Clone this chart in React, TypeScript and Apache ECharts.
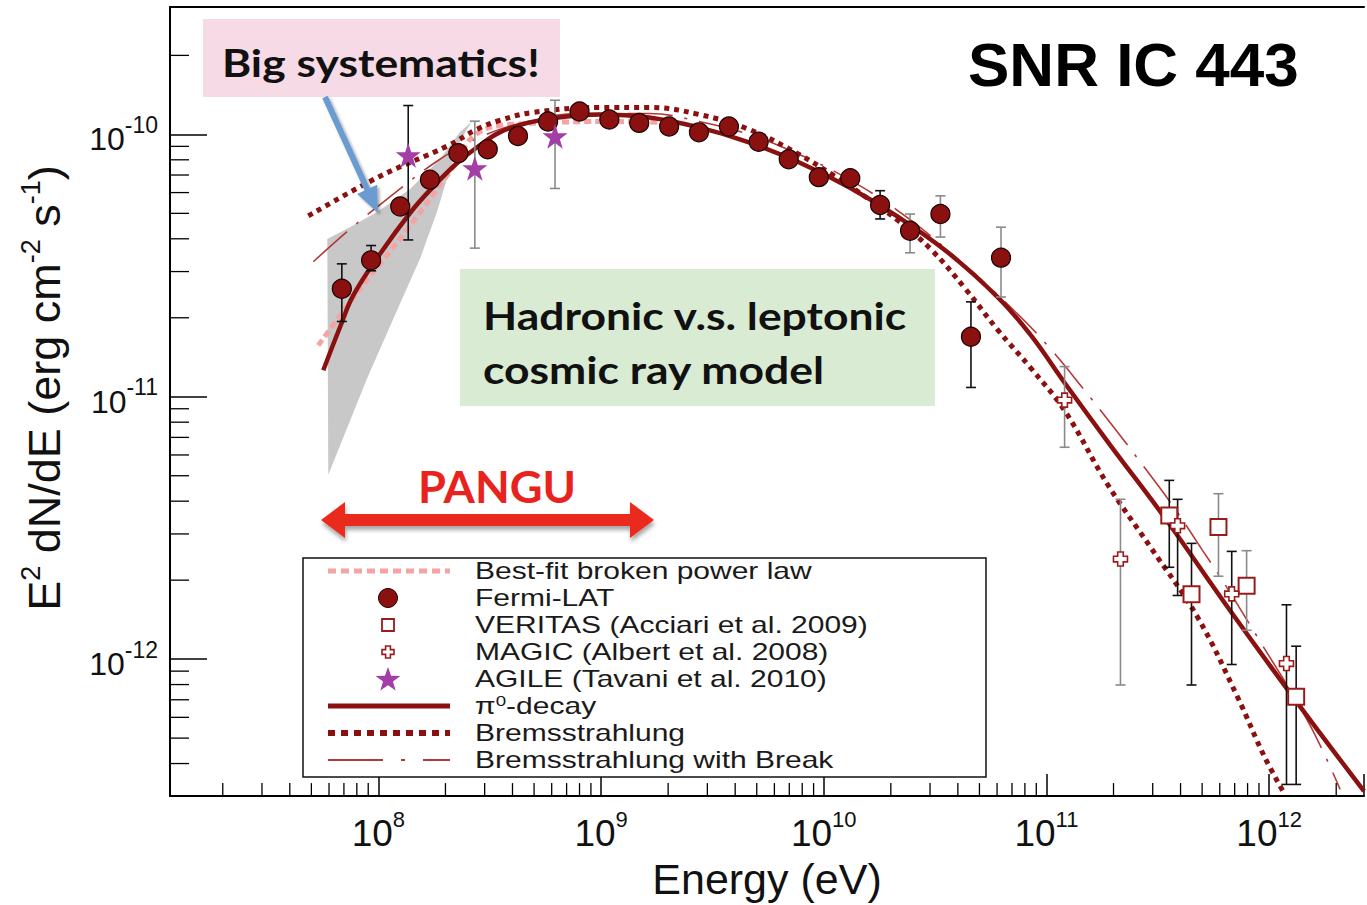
import React, { useEffect, useRef } from "react";
import * as echarts from "echarts";

// ---- axis ranges (data units) ----
const X_MIN = 1.159e7;
const X_MAX = 2.666e12;
const Y_MIN = 3.006e-13;
const Y_MAX = 3.058e-10;

// ---- minor tick positions (tick labels / axis furniture) ----
const minorMantissas = [2, 3, 4, 5, 6, 7, 8, 9];
const xDecades = [7, 8, 9, 10, 11, 12];
const yDecades = [-13, -12, -11, -10];

// ---- Fermi-LAT ----
const fermiE = [6.85e7, 9.27e7, 1.253e8, 1.704e8, 2.285e8, 3.097e8, 4.234e8, 5.78e8, 8.0e8, 1.089e9, 1.483e9, 2.02e9, 2.75e9, 3.75e9, 5.1e9, 6.96e9, 9.5e9, 1.315e10, 1.79e10, 2.44e10, 3.34e10, 4.58e10, 6.25e10];
const fermiF = [2.58e-11, 3.31e-11, 5.31e-11, 6.72e-11, 8.47e-11, 8.77e-11, 9.85e-11, 1.12e-10, 1.222e-10, 1.14e-10, 1.106e-10, 1.072e-10, 1.018e-10, 1.072e-10, 9.37e-11, 8.04e-11, 6.87e-11, 6.81e-11, 5.38e-11, 4.29e-11, 4.97e-11, 1.694e-11, 3.39e-11];

// ---- VERITAS ----
const veritasE = [3.56e11, 4.48e11, 5.92e11, 7.92e11, 1.322e12];
const veritasF = [3.526e-12, 1.768e-12, 3.19e-12, 1.905e-12, 7.19e-13];

// ---- MAGIC ----
const magicE = [1.206e11, 2.149e11, 3.88e11, 6.79e11, 1.196e12];
const magicF = [9.71e-12, 2.407e-12, 3.223e-12, 1.773e-12, 9.62e-13];

// ---- AGILE ----
const agileE = [1.361e8, 2.71e8, 6.21e8];
const agileF = [8.32e-11, 7.43e-11, 9.83e-11];

// ---- error bars [E, low, high] ----
const errBlack = [
  [6.85e7, 1.936e-11, 3.21e-11],
  [9.27e7, 3.02e-11, 3.77e-11],
  [1.361e8, 3.96e-11, 1.288e-10],
  [1.79e10, 4.76e-11, 6.1e-11],
  [4.58e10, 1.085e-11, 2.3e-11],
  [3.56e11, 2.239e-12, 4.8e-12],
  [4.48e11, 7.97e-13, 2.762e-12],
  [1.322e12, 3.33e-13, 1.12e-12],
  [3.88e11, 1.748e-12, 4.065e-12],
  [6.79e11, 9.54e-13, 2.574e-12],
  [1.196e12, 3.33e-13, 1.611e-12],
];
const errGray = [
  [2.71e8, 3.685e-11, 1.123e-10],
  [6.21e8, 6.22e-11, 1.349e-10],
  [2.44e10, 3.537e-11, 4.97e-11],
  [3.34e10, 4.06e-11, 5.83e-11],
  [6.25e10, 2.4e-11, 4.43e-11],
  [5.92e11, 2.07e-12, 4.27e-12],
  [7.92e11, 1.288e-12, 2.59e-12],
  [1.206e11, 6.42e-12, 1.303e-11],
  [2.149e11, 7.97e-13, 4.065e-12],
];

// ---- model curves ----
const pi0E = [5.655e7, 6.74e7, 7.7e7, 1.018e8, 1.387e8, 1.704e8, 2.251e8, 2.853e8, 3.505e8, 4.775e8, 6.99e8, 9.83e8, 1.645e9, 2.754e9, 4.61e9, 7.72e9, 1.292e10, 2.164e10, 3.623e10, 6.066e10, 8.52e10, 1.21e11, 1.944e11, 3.392e11, 6.7e11, 1.336e12, 2.666e12];
const pi0F = [1.262e-11, 1.853e-11, 2.43e-11, 3.507e-11, 5.016e-11, 6.13e-11, 7.76e-11, 9.08e-11, 1.018e-10, 1.111e-10, 1.17e-10, 1.191e-10, 1.16e-10, 1.063e-10, 9.33e-11, 7.83e-11, 6.3e-11, 4.84e-11, 3.537e-11, 2.388e-11, 1.713e-11, 1.126e-11, 6.5e-12, 3.465e-12, 1.525e-12, 6.83e-13, 3.14e-13];

const bremsE = [4.845e7, 1.018e8, 2.03e8, 2.765e8, 3.505e8, 4.925e8, 9.83e8, 1.645e9, 2.754e9, 4.61e9, 7.72e9, 1.085e10, 1.589e10, 2.164e10, 3.042e10, 4.317e10, 6.066e10, 8.52e10, 1.21e11, 1.885e11, 2.936e11, 4.766e11, 7.2e11, 9.51e11, 1.168e12];
const bremsF = [4.887e-11, 6.93e-11, 9.01e-11, 1.045e-10, 1.13e-10, 1.212e-10, 1.266e-10, 1.266e-10, 1.191e-10, 1.045e-10, 8.4e-11, 7.05e-11, 5.67e-11, 4.68e-11, 3.63e-11, 2.582e-11, 1.79e-11, 1.284e-11, 8.82e-12, 4.62e-12, 2.667e-12, 1.446e-12, 7.19e-13, 4.26e-13, 3.08e-13];

const breakE = [5.1e7, 7.47e7, 1.094e8, 1.889e8, 2.853e8, 4.31e8, 8.0e8, 1.645e9, 2.754e9, 4.61e9, 7.72e9, 1.292e10, 2.164e10, 3.623e10, 7.23e10, 1.037e11, 1.457e11, 1.985e11, 2.761e11, 3.685e11, 5.02e11, 6.04e11, 8.85e11, 1.512e12, 2.082e12];
const breakF = [3.27e-11, 4.36e-11, 5.67e-11, 8.04e-11, 9.74e-11, 1.101e-10, 1.201e-10, 1.201e-10, 1.12e-10, 1.0e-10, 8.4e-11, 6.75e-11, 5.1e-11, 3.6e-11, 2.113e-11, 1.529e-11, 1.078e-11, 7.74e-12, 5.36e-12, 3.85e-12, 2.598e-12, 2.051e-12, 1.215e-12, 5.68e-13, 3.19e-13];

const bplE = [5.37e7, 8.28e7, 1.251e8, 1.704e8, 2.204e8, 2.576e8, 3.162e8, 4.775e8, 9.83e8, 2.022e9];
const bplF = [1.57e-11, 2.582e-11, 3.996e-11, 5.67e-11, 7.69e-11, 9.57e-11, 1.063e-10, 1.101e-10, 1.12e-10, 1.111e-10];

// ---- systematics band (polygon outline) ----
const bandE = [5.895e7, 7.47e7, 9.87e7, 1.387e8, 1.889e8, 2.321e8, 2.627e8, 2.321e8, 2.094e8, 1.831e8, 1.537e8, 1.251e8, 8.9e7, 5.955e7];
const bandF = [3.996e-11, 4.44e-11, 5.06e-11, 6.19e-11, 8.04e-11, 1.018e-10, 1.12e-10, 9.41e-11, 7.37e-11, 5.06e-11, 3.356e-11, 2.266e-11, 1.177e-11, 5.04e-12];

// ---- legend labels ----
const legendLabels = [
  "Best-fit broken power law",
  "Fermi-LAT",
  "VERITAS (Acciari et al. 2009)",
  "MAGIC (Albert et al. 2008)",
  "AGILE (Tavani et al. 2010)",
  "{p|π}{s|0}{p|-decay}",
  "Bremsstrahlung",
  "Bremsstrahlung with Break",
];

const DARK_RED = "#8b1010";
const PURPLE = "#a23ea6";
const SANS = "'Liberation Sans', Arial, sans-serif";
const BOLD_HUMANIST = "Lato, 'Open Sans', sans-serif";

const STAR_PATH =
  "path://M50,0 L61.8,35.3 L98.9,35.3 L68.9,57.1 L80.3,92.5 L50,70.7 L19.7,92.5 L31.1,57.1 L1.1,35.3 L38.2,35.3 Z";
const CROSS_PATH =
  "path://M3,0 L7,0 L7,3 L10,3 L10,7 L7,7 L7,10 L3,10 L3,7 L0,7 L0,3 L3,3 Z";

const zip = (xs: number[], ys: number[]) => xs.map((x, i) => [x, ys[i]]);

function arrowPts(x1: number, y1: number, x2: number, y2: number, shaft: number, headLen: number, headW: number, both: boolean) {
  const len = Math.hypot(x2 - x1, y2 - y1);
  const ux = (x2 - x1) / len, uy = (y2 - y1) / len;
  const nx = -uy, ny = ux;
  const P = (a: number, b: number) => [x1 + ux * a + nx * b, y1 + uy * a + ny * b];
  const hs = shaft / 2, H = headW / 2;
  if (both) {
    return [P(0, 0), P(headLen, H), P(headLen, hs), P(len - headLen, hs), P(len - headLen, H), P(len, 0), P(len - headLen, -H), P(len - headLen, -hs), P(headLen, -hs), P(headLen, -H)];
  }
  return [P(0, hs), P(len - headLen, hs), P(len - headLen, H), P(len, 0), P(len - headLen, -H), P(len - headLen, -hs), P(0, -hs)];
}

function starPts(cx: number, cy: number, R: number) {
  const pts: number[][] = [];
  for (let i = 0; i < 10; i++) {
    const r = i % 2 === 0 ? R : R * 0.4;
    const a = -Math.PI / 2 + (i * Math.PI) / 5;
    pts.push([cx + r * Math.cos(a), cy + r * Math.sin(a)]);
  }
  return pts;
}

function crossPts(cx: number, cy: number, s: number) {
  const a = s * 0.2, b = s * 0.5;
  return [[cx - a, cy - b], [cx + a, cy - b], [cx + a, cy - a], [cx + b, cy - a], [cx + b, cy + a], [cx + a, cy + a], [cx + a, cy + b], [cx - a, cy + b], [cx - a, cy + a], [cx - b, cy + a], [cx - b, cy - a], [cx - a, cy - a]];
}

const powLabel = (v: number) => {
  const e = Math.log10(v);
  const r = Math.round(e);
  if (Math.abs(e - r) > 1e-6) return "";
  return `{b|10}{s|${r}}`;
};

function errRender(color: string) {
  return (params: any, api: any) => {
    const e = api.value(0), lo = api.value(1), hi = api.value(2);
    const a = api.coord([e, hi]);
    const b = api.coord([e, lo]);
    const w = 5;
    const st = { stroke: color, lineWidth: 1.6 };
    return {
      type: "group",
      children: [
        { type: "line", shape: { x1: a[0], y1: a[1], x2: b[0], y2: b[1] }, style: st },
        { type: "line", shape: { x1: a[0] - w, y1: a[1], x2: a[0] + w, y2: a[1] }, style: st },
        { type: "line", shape: { x1: b[0] - w, y1: b[1], x2: b[0] + w, y2: b[1] }, style: st },
      ],
    };
  };
}

export default function App() {
  const ref = useRef<HTMLDivElement>(null);
  useEffect(() => {
    document.body.style.margin = "0";
    document.body.style.overflow = "hidden";
    const chart = echarts.init(ref.current!, null, { renderer: "svg" });

    const xMinor: number[][] = [];
    xDecades.forEach((d) => minorMantissas.forEach((m) => {
      const v = m * Math.pow(10, d);
      if (v > X_MIN && v < X_MAX) xMinor.push([v, Y_MIN]);
    }));
    const yMinor: number[][] = [];
    yDecades.forEach((d) => minorMantissas.forEach((m) => {
      const v = m * Math.pow(10, d);
      if (v > Y_MIN && v < Y_MAX * 0.97) yMinor.push([X_MIN, v]);
    }));

    const legendY = [571, 598, 625, 652, 679, 706, 733, 760];
    const symX = 388;
    const boldText = (text: string, x: number, y: number) => ({
      type: "text", z: 101, x, y, scaleX: 1.17,
      style: { text, fontFamily: BOLD_HUMANIST, fontWeight: "bold", fontSize: 38, fill: "#111", align: "left", verticalAlign: "middle" },
    });

    const graphic: any[] = [
      // Big systematics box
      { type: "rect", z: 100, shape: { x: 203, y: 19, width: 357, height: 78 }, style: { fill: "#f6dae6" } },
      boldText("Big systematics!", 222, 62),
      // blue arrow
      { type: "polygon", z: 101, shape: { points: arrowPts(325, 97, 378, 213, 6, 26, 22, false) }, style: { fill: "#6a9cd2", shadowBlur: 3, shadowOffsetX: 2, shadowOffsetY: 2, shadowColor: "rgba(0,0,0,0.35)" } },
      // Hadronic box
      { type: "rect", z: 100, shape: { x: 460, y: 269, width: 475, height: 137 }, style: { fill: "#d9ebd3" } },
      boldText("Hadronic v.s. leptonic", 483, 315),
      boldText("cosmic ray model", 483, 369),
      // title
      { type: "text", z: 101, x: 968, y: 64, style: { text: "SNR IC 443", fontFamily: SANS, fontWeight: "bold", fontSize: 62, fill: "#000", align: "left", verticalAlign: "middle" } },
      // PANGU
      { type: "text", z: 101, x: 497, y: 486, scaleX: 1.05, style: { text: "PANGU", fontFamily: BOLD_HUMANIST, fontWeight: "bold", fontSize: 43, fill: "#e8231d", align: "center", verticalAlign: "middle" } },
      { type: "polygon", z: 101, shape: { points: arrowPts(321, 520, 654, 520, 12, 24, 36, true) }, style: { fill: "#ea2a1f", shadowBlur: 4, shadowOffsetX: 1, shadowOffsetY: 4, shadowColor: "rgba(0,0,0,0.35)" } },
      // y axis title
      {
        type: "text", z: 101, x: 42, y: 388, rotation: Math.PI / 2,
        style: {
          text: "{m|E}{s|2}{m| dN/dE (erg cm}{s|-2}{m| s}{s|-1}{m|)}",
          align: "center", verticalAlign: "middle",
          rich: {
            m: { fontFamily: SANS, fontSize: 45, fill: "#111", lineHeight: 50, verticalAlign: "bottom" },
            s: { fontFamily: SANS, fontSize: 27, fill: "#111", lineHeight: 26, verticalAlign: "top" },
          },
        },
      },
      // legend box
      { type: "rect", z: 100, shape: { x: 303, y: 558, width: 683, height: 219 }, style: { fill: "#fff", stroke: "#111", lineWidth: 1.5 } },
      { type: "line", z: 101, shape: { x1: 328, y1: legendY[0], x2: 450, y2: legendY[0] }, style: { stroke: "#f4a4a4", lineWidth: 5, lineDash: [8, 5] } },
      { type: "circle", z: 101, shape: { cx: symX, cy: legendY[1], r: 9.5 }, style: { fill: DARK_RED, stroke: "#200", lineWidth: 1 } },
      { type: "rect", z: 101, shape: { x: symX - 6, y: legendY[2] - 6, width: 12, height: 12 }, style: { fill: "#fff", stroke: "#9b1b1b", lineWidth: 1.8 } },
      { type: "polygon", z: 101, shape: { points: crossPts(symX, legendY[3], 12) }, style: { fill: "#fff", stroke: "#9b1b1b", lineWidth: 1.6 } },
      { type: "polygon", z: 101, shape: { points: starPts(symX, legendY[4] + 1, 13) }, style: { fill: PURPLE } },
      { type: "line", z: 101, shape: { x1: 328, y1: legendY[5], x2: 450, y2: legendY[5] }, style: { stroke: DARK_RED, lineWidth: 5 } },
      { type: "line", z: 101, shape: { x1: 328, y1: legendY[6], x2: 450, y2: legendY[6] }, style: { stroke: DARK_RED, lineWidth: 6, lineDash: [7, 6] } },
      { type: "line", z: 101, shape: { x1: 328, y1: legendY[7], x2: 450, y2: legendY[7] }, style: { stroke: "#b33a3a", lineWidth: 1.8, lineDash: [55, 18, 4, 18] } },
      ...legendLabels.map((t, i) => ({
        type: "text", z: 101, x: 475, y: legendY[i], scaleX: 1.25,
        style: {
          text: i === 5 ? t : `{p|${t}}`,
          align: "left", verticalAlign: "middle",
          rich: {
            p: { fontFamily: SANS, fontSize: 24, fill: "#1a1a1a", lineHeight: 24, verticalAlign: "bottom" },
            s: { fontFamily: SANS, fontSize: 15, fill: "#1a1a1a", lineHeight: 14, verticalAlign: "top" },
          },
        },
      })),
    ];

    const option: any = {
      animation: false,
      backgroundColor: "#fff",
      grid: { left: 170, top: 7, width: 1197, height: 793, show: false },
      xAxis: [
        {
          type: "log", logBase: 10, min: X_MIN, max: X_MAX,
          axisLine: { show: true, onZero: false, lineStyle: { color: "#000", width: 2 } },
          axisTick: { show: true, inside: true, length: 22, lineStyle: { color: "#000", width: 1.5 } },
          axisLabel: {
            margin: 12, formatter: powLabel,
            rich: {
              b: { fontFamily: SANS, fontSize: 37, color: "#111", lineHeight: 44, verticalAlign: "bottom" },
              s: { fontFamily: SANS, fontSize: 22, color: "#111", lineHeight: 20, verticalAlign: "top" },
            },
          },
          splitLine: { show: false },
          name: "Energy (eV)", nameLocation: "middle", nameGap: 58,
          nameTextStyle: { fontFamily: SANS, fontSize: 43, color: "#111" },
        },
        {
          type: "log", logBase: 10, min: X_MIN, max: X_MAX, position: "top",
          axisLine: { show: true, lineStyle: { color: "#000", width: 2 } },
          axisTick: { show: false }, axisLabel: { show: false }, splitLine: { show: false },
        },
      ],
      yAxis: {
        type: "log", logBase: 10, min: Y_MIN, max: Y_MAX,
        axisLine: { show: true, onZero: false, lineStyle: { color: "#000", width: 2 } },
        axisTick: { show: true, inside: true, length: 37, lineStyle: { color: "#000", width: 1.5 } },
        axisLabel: {
          margin: 12, formatter: powLabel,
          rich: {
            b: { fontFamily: SANS, fontSize: 32, color: "#111", lineHeight: 42, verticalAlign: "bottom" },
            s: { fontFamily: SANS, fontSize: 23, color: "#111", lineHeight: 20, verticalAlign: "top" },
          },
        },
        splitLine: { show: false },
      },
      graphic,
      series: [
        {
          type: "custom", name: "systematics", silent: true, z: 1,
          data: [[bandE[0], bandF[0]]],
          renderItem: (params: any, api: any) => ({
            type: "polygon",
            shape: { points: bandE.map((e, i) => api.coord([e, bandF[i]])) },
            style: { fill: "#c8c8c8" },
          }),
        },
        {
          type: "custom", name: "xMinor", silent: true, z: 10, data: xMinor,
          renderItem: (params: any, api: any) => {
            const p = api.coord([api.value(0), Y_MIN]);
            return { type: "line", shape: { x1: p[0], y1: p[1], x2: p[0], y2: p[1] - 13 }, style: { stroke: "#000", lineWidth: 1.3 } };
          },
        },
        {
          type: "custom", name: "yMinor", silent: true, z: 10, data: yMinor,
          renderItem: (params: any, api: any) => {
            const p = api.coord([X_MIN, api.value(1)]);
            return { type: "line", shape: { x1: p[0], y1: p[1], x2: p[0] + 19, y2: p[1] }, style: { stroke: "#000", lineWidth: 1.3 } };
          },
        },
        {
          type: "line", name: "Best-fit broken power law", data: zip(bplE, bplF), z: 2,
          showSymbol: false, smooth: 0.3,
          lineStyle: { color: "#f4a4a4", width: 5, type: [7, 4] },
        },
        {
          type: "line", name: "Bremsstrahlung with Break", data: zip(breakE, breakF), z: 3,
          showSymbol: false, smooth: 0.4,
          lineStyle: { color: "#b33a3a", width: 1.6, type: [45, 12, 3, 12] },
        },
        {
          type: "line", name: "Bremsstrahlung", data: zip(bremsE, bremsF), z: 3,
          showSymbol: false, smooth: 0.4,
          lineStyle: { color: DARK_RED, width: 5, type: [5, 5] },
        },
        {
          type: "line", name: "π0-decay", data: zip(pi0E, pi0F), z: 4,
          showSymbol: false, smooth: 0.4,
          lineStyle: { color: DARK_RED, width: 4.5 },
        },
        { type: "custom", name: "errGray", z: 5, data: errGray, renderItem: errRender("#8a8a8a") },
        { type: "custom", name: "errBlack", z: 5, data: errBlack, renderItem: errRender("#111") },
        {
          type: "scatter", name: "Fermi-LAT", data: zip(fermiE, fermiF), z: 6,
          symbol: "circle", symbolSize: 19,
          itemStyle: { color: DARK_RED, borderColor: "#1a0000", borderWidth: 1.2, opacity: 1 },
        },
        {
          type: "scatter", name: "VERITAS", data: zip(veritasE, veritasF), z: 6,
          symbol: "rect", symbolSize: 16,
          itemStyle: { color: "#fff", borderColor: "#9b1b1b", borderWidth: 2, opacity: 1 },
        },
        {
          type: "scatter", name: "MAGIC", data: zip(magicE, magicF), z: 6,
          symbol: CROSS_PATH, symbolSize: 14,
          itemStyle: { color: "#fff", borderColor: "#9b1b1b", borderWidth: 1.6, opacity: 1 },
        },
        {
          type: "scatter", name: "AGILE", data: zip(agileE, agileF), z: 6,
          symbol: STAR_PATH, symbolSize: 25,
          itemStyle: { color: PURPLE, opacity: 1 },
        },
      ],
    };
    chart.setOption(option);
    return () => chart.dispose();
  }, []);
  return <div ref={ref} style={{ width: 1367, height: 905 }} />;
}
